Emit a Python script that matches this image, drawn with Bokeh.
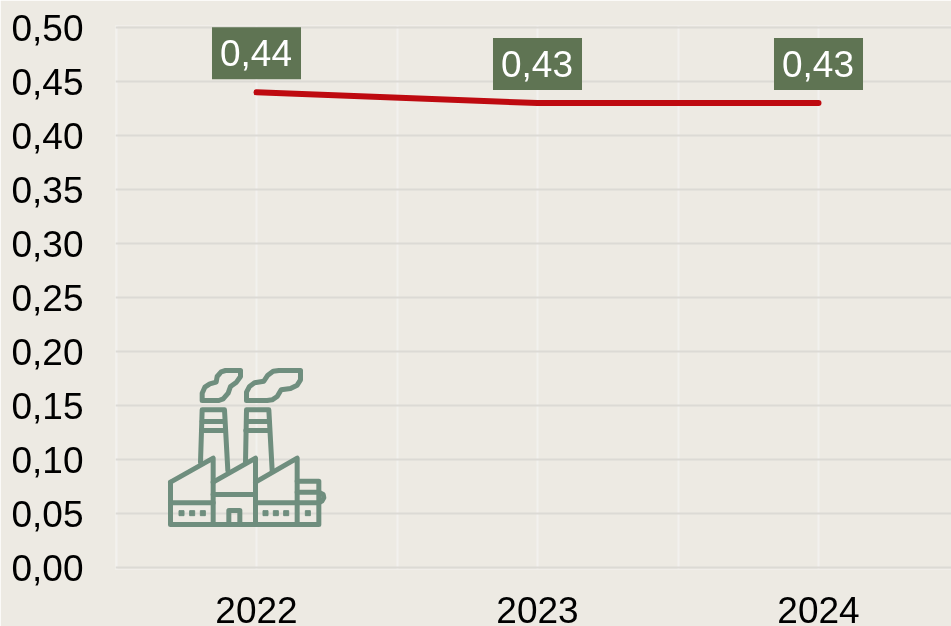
from bokeh.plotting import figure
from bokeh.embed import file_html
from bokeh.resources import INLINE
from bokeh.models import Range1d, FixedTicker, ColumnDataSource, CustomJSTickFormatter
from bokeh.core.properties import value

years = [2022, 2023, 2024]
values = [0.44, 0.43, 0.43]
labels = ["0,44", "0,43", "0,43"]
y_ticks = [0.00, 0.05, 0.10, 0.15, 0.20, 0.25, 0.30, 0.35, 0.40, 0.45, 0.50]
x_grid = [2021.5, 2022, 2022.5, 2023, 2023.5, 2024]

W, H = 951, 626
L, R, T, B = 115, 951, 25, 569
FONT = "Liberation Sans"
BG = "#EDEAE3"
PAD = 2 / 1080

p = figure(width=W, height=H, output_backend="svg", toolbar_location=None,
           x_range=Range1d(2021.5 - 0.5 / 281.0, 2021.5 + (R - L - 0.5) / 281.0), y_range=Range1d(-PAD, 0.5 + PAD),
           min_border_left=L, min_border_right=W - R, min_border_top=T, min_border_bottom=H - B,
           background_fill_color=BG, border_fill_color=BG, outline_line_color=None)
p.styles = {"position": "fixed", "left": "0px", "top": "0px"}
p.extra_x_ranges["px"] = Range1d(L, R)
p.extra_y_ranges["px"] = Range1d(B, T)

p.ygrid.ticker = FixedTicker(ticks=y_ticks)
p.ygrid.grid_line_color = "#DCDAD5"
p.ygrid.grid_line_width = 2
p.xgrid.ticker = FixedTicker(ticks=x_grid)
p.xgrid.grid_line_color = "#F2F1EE"
p.xgrid.grid_line_width = 2

for ax in (p.xaxis[0], p.yaxis[0]):
    ax.axis_line_color = None
    ax.major_tick_line_color = None
    ax.minor_tick_line_color = None
    ax.major_label_text_font = FONT
    ax.major_label_text_font_size = "37px"
    ax.major_label_text_color = "#000000"
p.xaxis[0].ticker = FixedTicker(ticks=years)
p.xaxis[0].major_label_standoff = 21
p.xaxis[0].major_label_text_line_height = 0.8
p.yaxis[0].ticker = FixedTicker(ticks=y_ticks)
p.yaxis[0].major_label_standoff = 26
p.yaxis[0].formatter = CustomJSTickFormatter(code="return tick.toFixed(2).replace('.', ',');")

p.line(years, values, line_color="#BE0A10", line_width=6, line_cap="round")

src = ColumnDataSource(dict(x=years, y=values, t=labels))
p.text("x", "y", text="t", source=src, text_font=value(FONT), text_font_size={"value": "37px"},
       text_color="#FFFFFF", text_align="center", text_baseline="middle", y_offset=-39,
       background_fill_color="#5F7453", padding=(8, 9, 13, 13))

# factory pictogram, outlined in picture pixels
ICON_COLOR = "#6F8E7E"
ox, oy, s = 150, 350, 1 / 3
paths = [
    [(60, 395), (188, 323), (188, 522)],
    [(188, 395), (315, 323), (315, 522)],
    [(315, 395), (440, 323), (440, 522)],
    [(60, 395), (60, 522), (505, 522), (505, 392), (440, 392)],
    [(60, 457), (188, 457)], [(188, 432), (315, 432)], [(315, 457), (440, 457)],
    [(440, 425), (505, 425), (518, 432), (520, 442), (514, 452), (505, 457), (440, 457)],
    [(235, 522), (235, 480), (268, 480), (268, 522)],
    [(150, 335), (155, 178), (222, 178), (232, 360)],
    [(155, 213), (222, 213)], [(153, 240), (224, 240)],
    [(285, 335), (288, 178), (355, 178), (365, 360)],
    [(288, 213), (355, 213)], [(286, 240), (357, 240)],
    [(155, 150), (155, 128), (163, 110), (178, 100), (197, 95), (200, 78), (212, 64), (225, 60),
     (270, 60), (270, 78), (258, 95), (240, 108), (233, 128), (218, 145), (205, 150), (155, 150)],
    [(288, 150), (288, 125), (297, 108), (312, 97), (340, 92), (352, 74), (368, 62), (385, 60),
     (450, 60), (450, 88), (440, 104), (420, 114), (392, 118), (380, 138), (365, 148), (350, 150), (288, 150)],
]
p.multi_line([[ox + a * s for a, _ in q] for q in paths], [[oy + b * s for _, b in q] for q in paths],
             line_color=ICON_COLOR, line_width=5, line_join="round", line_cap="round",
             x_range_name="px", y_range_name="px")
dots = [(93, 488), (125, 488), (157, 488), (345, 488), (376, 488), (407, 488), (472, 488)]
p.scatter([ox + a * s for a, _ in dots], [oy + b * s for _, b in dots], marker="square", size=5,
          color=ICON_COLOR, x_range_name="px", y_range_name="px")

open("out.html", "w").write(file_html(p, INLINE))
